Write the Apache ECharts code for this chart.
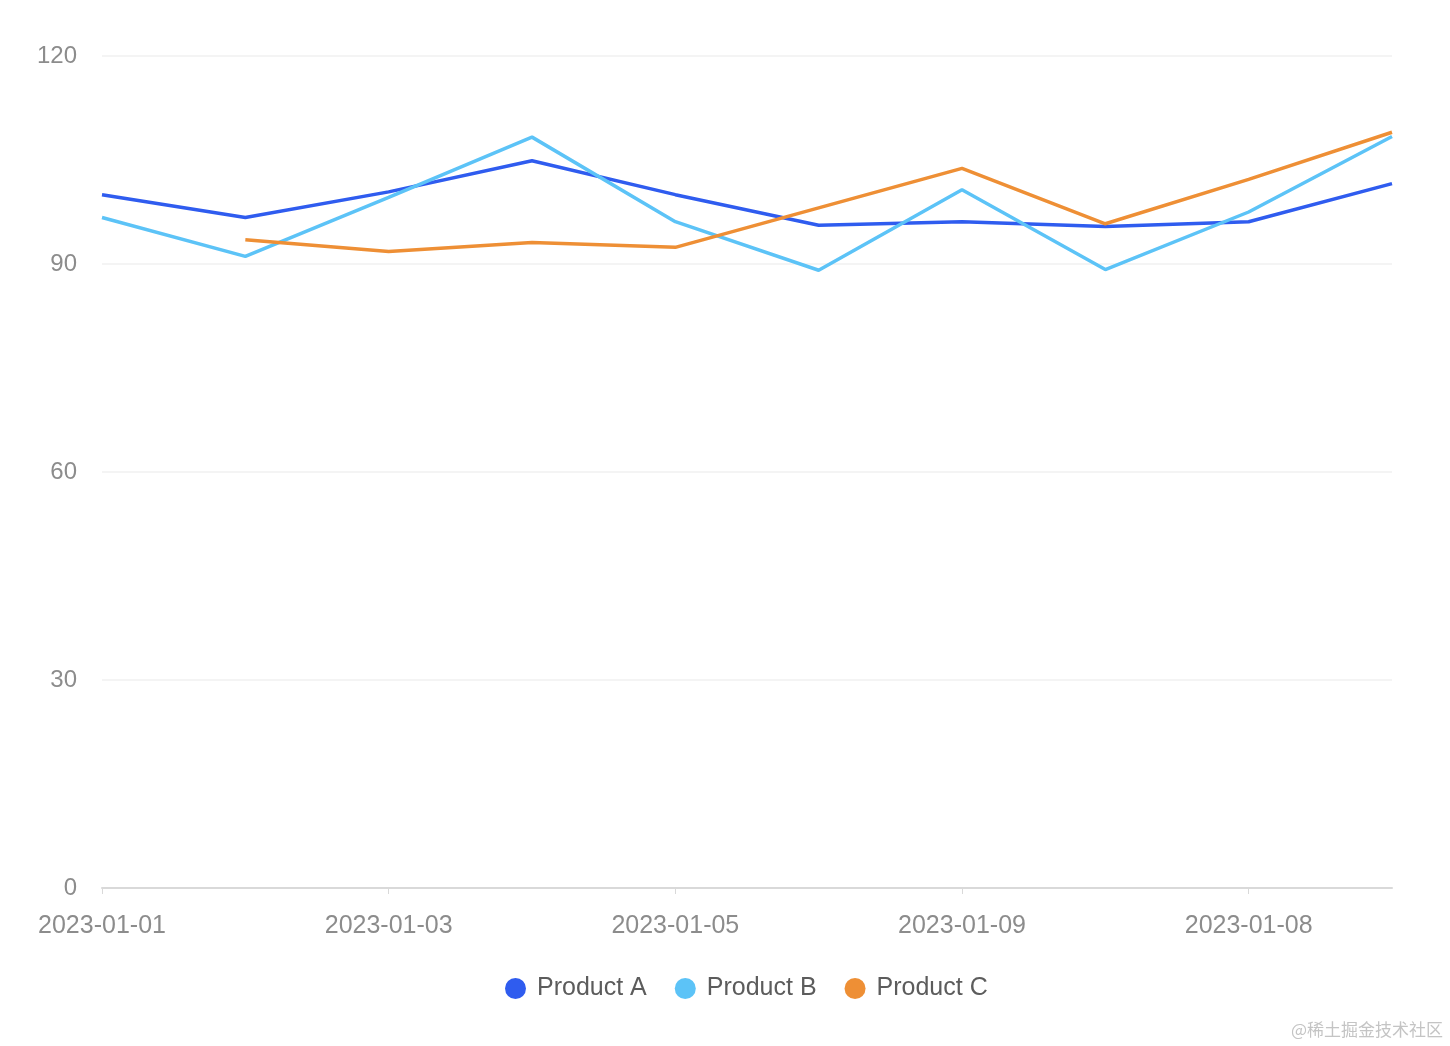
<!DOCTYPE html>
<html>
<head>
<meta charset="utf-8">
<script src="https://cdn.jsdelivr.net/npm/echarts@6/dist/echarts.min.js"></script>
<style>
html,body{margin:0;padding:0;background:#fff;}
#chart{width:1450px;height:1046px;}
</style>
</head>
<body>
<div id="chart"></div>
<script>
const categories = ['2023-01-01','2023-01-02','2023-01-03','2023-01-04','2023-01-05','2023-01-06','2023-01-09','2023-01-07','2023-01-08','2023-01-10'];
const productA = [100, 96.7, 100.4, 104.9, 100, 95.6, 96.1, 95.4, 96.1, 101.6];
const productB = [96.7, 91.1, 99.6, 108.3, 96.1, 89.1, 100.7, 89.2, 97.5, 108.4];
const productC = [null, 93.5, 91.8, 93.1, 92.4, 98.1, 103.8, 95.8, 102.2, 109.0];
const yTicks = { min: 0, max: 120, interval: 30 };

const FONT = '"Liberation Sans", Arial, sans-serif';
const chart = echarts.init(document.getElementById('chart'));
const mk = (name, data, color) => ({
  name, type: 'line', data, showSymbol: false, symbol: 'circle',
  lineStyle: { width: 3.5, color }, itemStyle: { color },
  connectNulls: false
});
chart.setOption({
  animation: false,
  textStyle: { fontFamily: FONT },
  grid: { left: 102, right: 58, top: 56, bottom: 158 },
  legend: {
    bottom: 40, left: 500, icon: 'circle', itemWidth: 21, itemHeight: 21, itemGap: 28,
    textStyle: { fontSize: 25, color: '#5c5c5c', fontFamily: FONT, padding: [0, 0, 0, 6] },
    data: ['Product A', 'Product B', 'Product C']
  },
  xAxis: {
    type: 'category', data: categories, boundaryGap: false,
    axisLine: { lineStyle: { color: '#d9d9d9', width: 2 } },
    axisTick: { show: true, length: 6, lineStyle: { color: '#d9d9d9', width: 1 }, interval: 1 },
    axisLabel: { interval: 1, fontSize: 25, color: '#8c8c8c', margin: 26, fontFamily: FONT }
  },
  yAxis: {
    type: 'value', min: yTicks.min, max: yTicks.max, interval: yTicks.interval,
    axisLine: { show: false }, axisTick: { show: false },
    splitLine: { lineStyle: { color: '#f0f0f0', width: 1.5 } },
    axisLabel: { fontSize: 24, color: '#8c8c8c', margin: 25, fontFamily: FONT, padding: [4, 0, 0, 0] }
  },
  series: [
    mk('Product A', productA, '#2F5CEF'),
    mk('Product B', productB, '#5CC3F7'),
    mk('Product C', productC, '#EE8F35')
  ],
  graphic: [{
    type: 'text', right: 7, bottom: 8,
    style: { text: '@稀土掘金技术社区', fill: '#c4c4c4', font: '17px "Noto Sans CJK SC", sans-serif' }
  }]
});
</script>
</body>
</html>
